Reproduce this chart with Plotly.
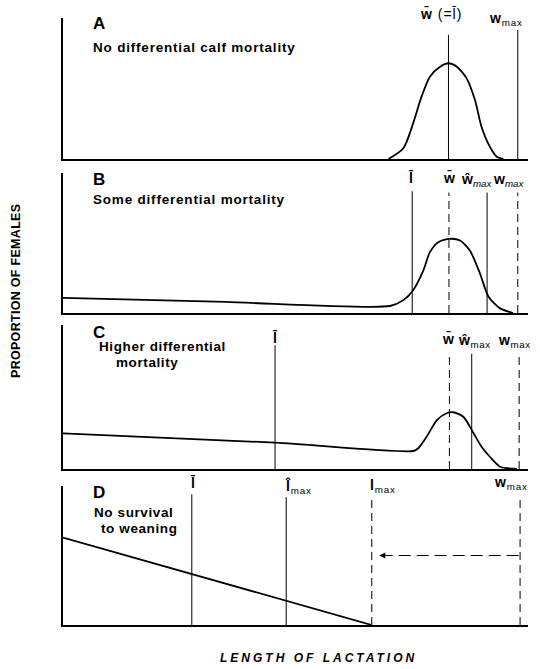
import plotly.graph_objects as go

W, H = 540, 669
FONT = "Liberation Sans, Arial, Helvetica, sans-serif"

# ---------------- data (arbitrary units: lactation length 0-100, proportion 0-1) -------------
# Panel A: no differential calf mortality
a_x = [70.0, 73.2, 75.3, 77.1, 78.9, 81.1, 82.9, 84.7, 86.8, 88.6, 90.0, 91.8, 93.3, 94.7]
a_y = [0.0, 0.076, 0.253, 0.442, 0.584, 0.655, 0.679, 0.655, 0.572, 0.418, 0.229, 0.087, 0.016, 0.0]
a_lines_x = [82.9, 97.8]
a_lines_top = [0.88, 0.915]
a_lines_dash = ["solid", "solid"]

# Panel B: some differential mortality
b_x = [0.0, 35.0, 70.3, 73.2, 75.3, 77.5, 78.9, 80.7, 83.2, 85.4, 87.5, 89.7, 91.5, 94.0, 96.8]
b_y = [0.108, 0.079, 0.05, 0.092, 0.163, 0.305, 0.435, 0.506, 0.53, 0.518, 0.447, 0.28, 0.116, 0.033, 0.0]
b_lines_x = [75.1, 83.0, 91.2, 97.8]
b_lines_top = [0.87, 0.86, 0.86, 0.86]
b_lines_dash = ["solid", "dash", "solid", "dash"]

# Panel C: higher differential mortality
c_x = [0.0, 45.6, 75.3, 76.4, 78.2, 80.4, 82.5, 83.9, 86.1, 88.3, 90.0, 91.8, 94.0, 97.6]
c_y = [0.248, 0.183, 0.125, 0.144, 0.224, 0.34, 0.387, 0.394, 0.363, 0.248, 0.155, 0.085, 0.016, 0.0]
c_lines_x = [45.6, 83.1, 87.9, 98.1]
c_lines_top = [0.86, 0.80, 0.80, 0.80]
c_lines_dash = ["solid", "dash", "solid", "dash"]

# Panel D: no survival to weaning
d_x = [0.0, 66.4]
d_y = [0.629, 0.0]
d_lines_x = [27.7, 48.0, 66.4, 98.3]
d_lines_top = [0.94, 0.92, 0.93, 0.93]
d_lines_dash = ["solid", "solid", "dash", "dash"]
d_arrow_x = [98.0, 68.0]
d_arrow_y = [0.5, 0.5]

# ---------------- layout geometry (pixels) ----------------
X0, X1 = 63, 528
panels = [  # (top_px, base_px)
    (18, 159),
    (173, 313),
    (325, 469),
    (486, 625),
]

DASH = "8px,5px"

fig = go.Figure()


def line_style(d):
    return DASH if d == "dash" else "solid"


series = [
    (a_x, a_y, a_lines_x, a_lines_top, a_lines_dash, "spline"),
    (b_x, b_y, b_lines_x, b_lines_top, b_lines_dash, "spline"),
    (c_x, c_y, c_lines_x, c_lines_top, c_lines_dash, "spline"),
    (d_x, d_y, d_lines_x, d_lines_top, d_lines_dash, "linear"),
]

for i, (xs, ys, lx, lt, ld, shp) in enumerate(series, start=1):
    xa = "x" if i == 1 else f"x{i}"
    ya = "y" if i == 1 else f"y{i}"
    for xv, tv, dv in zip(lx, lt, ld):
        fig.add_trace(go.Scatter(x=[xv, xv], y=[0, tv], mode="lines",
                                 line=dict(color="black", width=1, dash=line_style(dv)),
                                 xaxis=xa, yaxis=ya, cliponaxis=False,
                                 hoverinfo="skip", showlegend=False))
    fig.add_trace(go.Scatter(x=xs, y=ys, mode="lines",
                             line=dict(color="black", width=1.8, shape=shp, smoothing=0.7),
                             xaxis=xa, yaxis=ya, cliponaxis=False,
                             hoverinfo="skip", showlegend=False))

# dashed arrow in panel D
fig.add_trace(go.Scatter(x=d_arrow_x, y=d_arrow_y, mode="lines",
                         line=dict(color="black", width=1, dash="12px,6px"),
                         xaxis="x4", yaxis="y4", cliponaxis=False,
                         hoverinfo="skip", showlegend=False))

layout = dict(width=W, height=H, margin=dict(l=0, r=0, t=0, b=0),
              paper_bgcolor="white", plot_bgcolor="white",
              font=dict(family=FONT, color="black", size=14), showlegend=False)

for i, (top, base) in enumerate(panels, start=1):
    xk = "xaxis" if i == 1 else f"xaxis{i}"
    yk = "yaxis" if i == 1 else f"yaxis{i}"
    layout[xk] = dict(domain=[X0 / W, X1 / W], range=[0, 100], showline=True,
                      linewidth=2, linecolor="black", showticklabels=False,
                      ticks="", showgrid=False, zeroline=False,
                      anchor="y" if i == 1 else f"y{i}", fixedrange=True)
    layout[yk] = dict(domain=[1 - base / H, 1 - top / H], range=[0, 1], showline=True,
                      linewidth=2, linecolor="black", showticklabels=False,
                      ticks="", showgrid=False, zeroline=False,
                      anchor="x" if i == 1 else f"x{i}", fixedrange=True)

fig.update_layout(**layout)

anns = []


def txt(text, px, py, xanchor="left", size=14, spacing=None, bold=False, italic=False,
        angle=0, yanchor="middle"):
    t = text
    if bold:
        t = f"<b>{t}</b>"
    if italic:
        t = f"<i>{t}</i>"
    if spacing is not None:
        t = f'<span style="letter-spacing:{spacing}px">{t}</span>'
    anns.append(dict(text=t, x=px / W, y=1 - py / H, xref="paper", yref="paper",
                     xanchor=xanchor, yanchor=yanchor, showarrow=False,
                     font=dict(family=FONT, size=size, color="black"), textangle=angle))


# panel letters
txt("A", 91, 24, size=17, bold=True)
txt("B", 91, 179, size=17, bold=True)
txt("C", 91, 332, size=17, bold=True)
txt("D", 91, 492, size=17, bold=True)

# panel descriptions
txt("No differential calf mortality", 91, 48, spacing=0.8, bold=True, size=13.5)
txt("Some differential mortality", 91, 199, spacing=0.8, bold=True, size=13.5)
txt("Higher differential", 97, 346, spacing=0.6, bold=True, size=13.5)
txt("mortality", 114, 362, spacing=0.6, bold=True, size=13.5)
txt("No survival", 92, 512, spacing=0.6, bold=True, size=13.5)
txt("to weaning", 99, 528, spacing=0.6, bold=True, size=13.5)

# line labels, panel A
txt("<b>w\u0304</b> (=l\u0304)", 441, 14, xanchor="center", spacing=1)
txt("<b>w</b><sub>max</sub>", 487, 19, spacing=0.8)
# panel B
txt("<b>l\u0304</b>", 411, 178, xanchor="center")
txt("<b>w\u0304</b>", 449, 178, xanchor="center")
txt("<b>\u0175</b><sub><i>max</i></sub>", 459, 180)
txt("<b>w</b><sub><i>max</i></sub>", 491, 180)
# panel C
txt("<b>l\u0304</b>", 275, 337, xanchor="center")
txt("<b>w\u0304</b>", 448, 338, xanchor="center")
txt("<b>\u0175</b><sub>max</sub>", 456, 341, spacing=0.6)
txt("<b>w</b><sub>max</sub>", 496, 341, spacing=0.6)
# panel D
txt("<b>l\u0304</b>", 193, 482, xanchor="center")
txt("<b>l\u0302</b><sub>max</sub>", 283, 486, spacing=0.8)
txt("<b>l</b><sub>max</sub>", 368, 486, spacing=0.8)
txt("<b>w</b><sub>max</sub>", 492, 483, spacing=0.8)

# axis titles
txt("PROPORTION OF FEMALES", 16, 291, xanchor="center", size=12.5, bold=True, angle=-90,
    spacing=0.3)
txt("LENGTH OF LACTATION", 318, 658, xanchor="center", size=12, bold=True, italic=True,
    spacing=3)

# arrow head (panel D)
anns.append(dict(x=d_arrow_x[-1], y=d_arrow_y[-1], xref="x4", yref="y4", ax=9, ay=0,
                 axref="pixel", ayref="pixel", text="", showarrow=True, arrowhead=2,
                 arrowsize=1.1, arrowwidth=1.1, arrowcolor="black"))

fig.update_layout(annotations=anns)
fig.write_html("out.html")
